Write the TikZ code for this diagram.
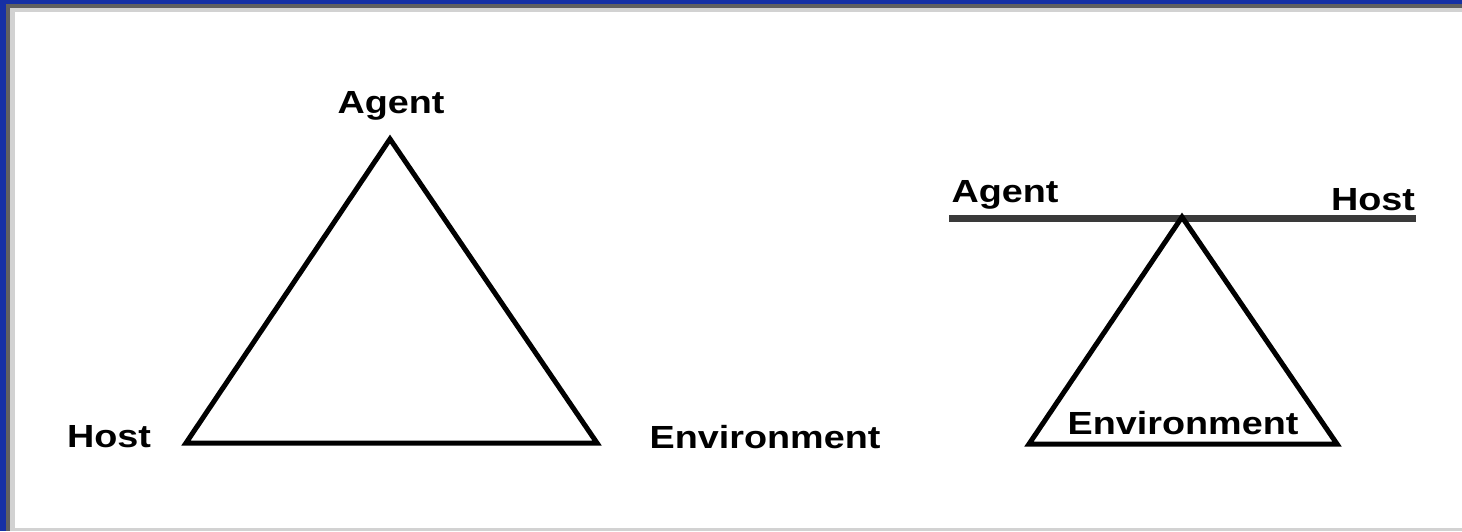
\documentclass[tikz,border=0pt]{standalone}
\usepackage{fontspec}
\setmainfont{Liberation Sans}
\definecolor{frameblue}{HTML}{1530A5}
\definecolor{framegray}{HTML}{606060}
\definecolor{framelight}{HTML}{D2D2D2}
\definecolor{bargray}{HTML}{3A3A3A}
\begin{document}
\begin{tikzpicture}[x=1pt,y=-1pt,
  lbl/.style={font=\fontsize{32}{38}\selectfont\bfseries, inner sep=0pt, anchor=base, xscale=1.18},
  edge/.style={line width=5pt, line join=miter, black},
  barline/.style={line width=7pt, bargray}]
\useasboundingbox (0,0) rectangle (1462,531);
\fill[white] (0,0) rectangle (1462,531);
% frame
\fill[framelight] (10,8) rectangle (1462,12);
\fill[framelight] (10,8) rectangle (15,531);
\fill[framelight] (0,528) rectangle (1462,531);
\fill[framegray] (6,4) rectangle (1462,8);
\fill[framegray] (6,4) rectangle (10,531);
\fill[frameblue] (0,0) rectangle (1462,4);
\fill[frameblue] (0,0) rectangle (6,531);
% left triangle
\coordinate (LA) at (390,139);
\coordinate (LH) at (186,443);
\coordinate (LE) at (597,443);
\draw[edge] (LA) -- (LE) -- (LH) -- cycle;
\node[lbl] (agentL) at (391,113) {Agent};
\node[lbl] (hostL) at (109,447) {Host};
\node[lbl] (envL) at (765,448) {Environment};
% right lever
\coordinate (BL) at (949,218);
\coordinate (BR) at (1416,218);
\draw[barline] (BL) -- (BR);
\coordinate (RA) at (1182,217);
\coordinate (RL) at (1029,444);
\coordinate (RR) at (1337,444);
\draw[edge] (RA) -- (RR) -- (RL) -- cycle;
\node[lbl] (agentR) at (1005,202) {Agent};
\node[lbl] (hostR) at (1373,210) {Host};
\node[lbl] (envR) at (1183,434) {Environment};
\end{tikzpicture}
\end{document}
